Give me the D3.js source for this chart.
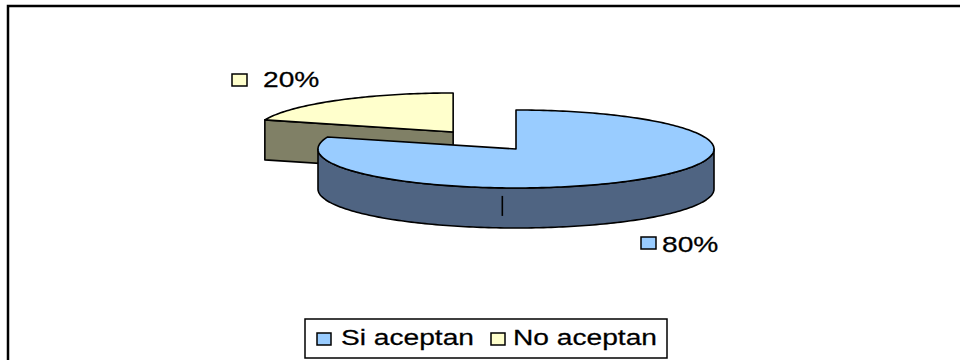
<!DOCTYPE html>
<html>
<head>
<meta charset="utf-8">
<script src="https://cdn.jsdelivr.net/npm/d3@7"></script>
<style>
  html, body { margin: 0; padding: 0; background: #fff; }
  svg { display: block; }
  text { font-family: "Liberation Sans", Arial, sans-serif; fill: #000; stroke: #000; stroke-width: 0.25; }
</style>
</head>
<body>
<svg id="chart" width="960" height="360"></svg>
<script>
// Survey answers
const categories = ["Si aceptan", "No aceptan"];
const values = [80, 20];
const percentLabels = ["80%", "20%"];
const topColors = ["#99CCFF", "#FFFFCC"];
const sideColors = ["#4F6482", "#808066"];
const explode = [0, 0.54];

const svg = d3.select("#chart");
const W = 960, H = 360;

// outer chart frame (right/bottom edges fall outside the view)
svg.append("rect")
  .attr("x", 8).attr("y", 6).attr("width", W).attr("height", H)
  .attr("fill", "#fff").attr("stroke", "#000").attr("stroke-width", 2.5);

// 3D ellipse geometry
const cx = 516, cy = 149, rx = 198, ry = 39, depth = 40;
const TAU = Math.PI * 2;

const pie = d3.pie().sort(null).value(d => d)
  .startAngle(0).endAngle(TAU);
const arcs = pie(values);

const pt = (a, r, ox, oy, dz = 0) => [ox + rx * r * Math.sin(a), oy - ry * r * Math.cos(a) + dz];

function sample(a0, a1) {
  const n = Math.max(2, Math.ceil(Math.abs(a1 - a0) / 0.02));
  return d3.range(n + 1).map(i => a0 + (a1 - a0) * i / n);
}

const line = d3.line();
const strokeW = 1.6;

// offset of each slice from the pie centre
const centers = arcs.map((d, i) => {
  const mid = (d.startAngle + d.endAngle) / 2;
  const p = pt(mid, explode[i], 0, 0);
  return [cx + p[0], cy + p[1]];
});

// draw back slice first, front slice last
const order = [1, 0];
order.forEach(i => {
  const d = arcs[i];
  const [ox, oy] = centers[i];
  const g = svg.append("g");

  // radial face at the start angle when it faces the viewer
  const sa = d.startAngle;
  if (i === 1) {
    const p = pt(sa, 1, ox, oy);
    const poly = [[ox, oy], p, [p[0], p[1] + depth], [ox, oy + depth]];
    g.append("path").attr("d", line(poly) + "Z")
      .attr("fill", sideColors[i]).attr("stroke", "#000").attr("stroke-width", strokeW)
      .attr("stroke-linejoin", "round");
  }

  // outer curved side on the front half of the ellipse
  const s0 = Math.max(d.startAngle, Math.PI / 2);
  const s1 = Math.min(d.endAngle, 3 * Math.PI / 2);
  if (s1 > s0) {
    const angs = sample(s0, s1);
    const topPts = angs.map(a => pt(a, 1, ox, oy));
    const botPts = angs.slice().reverse().map(a => pt(a, 1, ox, oy, depth));
    g.append("path").attr("d", line(topPts.concat(botPts)) + "Z")
      .attr("fill", sideColors[i]).attr("stroke", "#000").attr("stroke-width", strokeW)
      .attr("stroke-linejoin", "round");
    if (i === 0) {
      // seam on the curved side
      const a = Math.PI * 1.022;
      const t = pt(a, 1, ox, oy);
      g.append("line")
        .attr("x1", t[0]).attr("x2", t[0])
        .attr("y1", t[1] + 8).attr("y2", t[1] + depth - 12)
        .attr("stroke", "#000").attr("stroke-width", 1.6);
    }
  }

  // top face
  const tp = [[ox, oy]].concat(sample(d.startAngle, d.endAngle).map(a => pt(a, 1, ox, oy)));
  g.append("path").attr("d", line(tp) + "Z")
    .attr("fill", topColors[i]).attr("stroke", "#000").attr("stroke-width", strokeW)
    .attr("stroke-linejoin", "round");
});

// text helper with the chart's wide type
const stretch = 1.28;
function wideText(x, y, str, size) {
  svg.append("text")
    .attr("transform", `translate(${x},${y}) scale(${stretch},1)`)
    .attr("font-size", size)
    .text(str);
}
function keyBox(x, y, w, h, color) {
  svg.append("rect").attr("x", x).attr("y", y).attr("width", w).attr("height", h)
    .attr("fill", color).attr("stroke", "#000").attr("stroke-width", 1.5);
}

// percentage labels
const labelPos = [
  { kx: 641, ky: 237, tx: 662, ty: 252 },
  { kx: 232, ky: 74, tx: 263, ty: 87 }
];
arcs.forEach((d, i) => {
  const p = labelPos[i];
  keyBox(p.kx, p.ky, 15, 12, topColors[i]);
  wideText(p.tx, p.ty, percentLabels[i], 22);
});

// legend
svg.append("rect").attr("x", 305).attr("y", 319).attr("width", 362).attr("height", 39)
  .attr("fill", "#fff").attr("stroke", "#000").attr("stroke-width", 1.5);
const legendPos = [{ kx: 317, tx: 341 }, { kx: 491, tx: 513 }];
categories.forEach((c, i) => {
  keyBox(legendPos[i].kx, 333, 14, 12, topColors[i]);
  wideText(legendPos[i].tx, 345, c, 22);
});
</script>
</body>
</html>
